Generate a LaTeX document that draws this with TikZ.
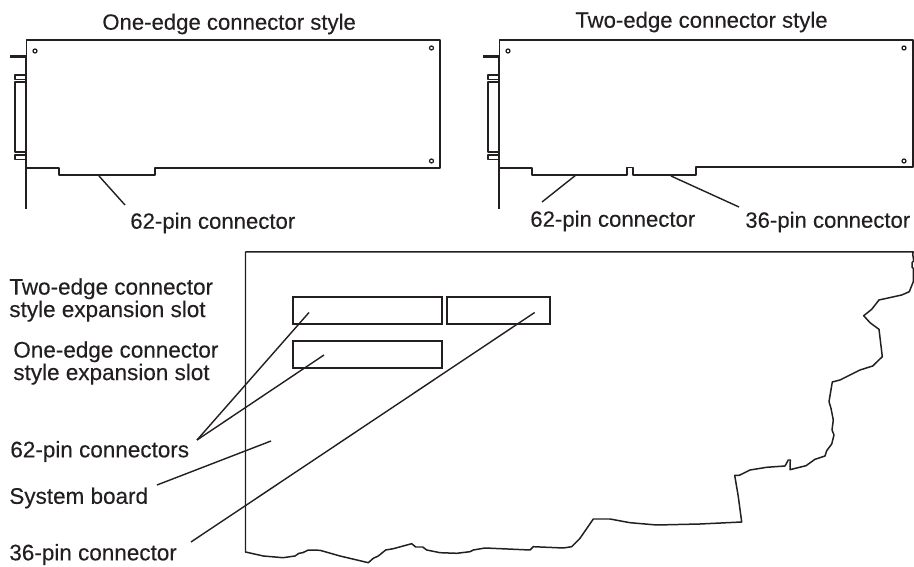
\documentclass[tikz,border=0pt]{standalone}
\usepackage{fontspec}
\newfontfamily\labelfont[FakeBold=0.25]{Liberation Sans}
\definecolor{inkline}{HTML}{231F20}
\tikzset{
  cardline/.style={inkline, line width=1.1pt, line join=round},
  boardline/.style={inkline, line width=0.85pt, line join=round},
  plugline/.style={inkline, line width=0.9pt, line join=round},
  bracketline/.style={inkline, line width=1.6pt},
  leaderline/.style={inkline, line width=0.8pt},
  slotbox/.style={draw=inkline, line width=1.1pt, rectangle, inner sep=0pt, outer sep=0pt, anchor=north west},
  labeltext/.style={inkline, inner sep=0pt, align=left, anchor=west, font=\labelfont\fontsize{12.8}{12.8}\selectfont},
  cardtext/.style={labeltext, font=\labelfont\fontsize{12.6}{12.6}\selectfont},
  holedot/.style={inkline, line width=0.7pt}
}
\begin{document}
\begin{tikzpicture}[x=0.02cm, y=-0.02cm]
    \useasboundingbox (0,0) rectangle (914,567);

    % one-edge card
    \draw[cardline] (26.5,168) -- (26.5,40) -- (440,40) -- (440,168) -- (155,168) -- (155,175) -- (59,175) -- (59,168) -- cycle;
    \draw[bracketline] (26,56.5) -- (26,209);
    \draw[bracketline] (10,56.5) -- (26,56.5);
    \draw[plugline] (25,75) -- (15,75) -- (15,79.5) -- (25,79.5);
    \draw[plugline] (25,82) -- (15,82) -- (15,152) -- (25,152);
    \draw[plugline] (25,155) -- (15,155) -- (15,159.5) -- (25,159.5);
    \draw[holedot] (35,51) circle (2);
    \draw[holedot] (431.5,48) circle (2);
    \draw[holedot] (431.5,161) circle (2);

    % two-edge card
    \draw[cardline] (499.5,168) -- (499.5,40) -- (913,40) -- (913,167) -- (696,167) -- (696,175) -- (633,175) -- (633,167.5) -- (627,167.5) -- (627,175) -- (532,175) -- (532,168) -- cycle;
    \draw[bracketline] (499,56.5) -- (499,209);
    \draw[bracketline] (483,56.5) -- (499,56.5);
    \draw[plugline] (498,75) -- (488,75) -- (488,79.5) -- (498,79.5);
    \draw[plugline] (498,82) -- (488,82) -- (488,152) -- (498,152);
    \draw[plugline] (498,155) -- (488,155) -- (488,159.5) -- (498,159.5);
    \draw[holedot] (508,51) circle (2);
    \draw[holedot] (904,48) circle (2);
    \draw[holedot] (904,161) circle (2);

    % system board
    \draw[boardline] (245.5,552) -- (245.5,252) -- (913.3,252) -- (912.7,254) -- (913.7,260.7) -- (912,262.7) -- (912,267.3) -- (913.3,268.3) -- (913.3,281.7) -- (909.3,291.7) -- (901.7,295) -- (879,300) -- (871.7,309.3) -- (863.7,315.7) -- (870,322.7) -- (879,329.3) -- (882.3,356.7) -- (872.7,366) -- (860,370) -- (840,380) -- (832.3,382) -- (829,401.7) -- (831,408.3) -- (833.3,420) -- (832,430) -- (834,435) -- (831.7,444) -- (826.7,450.7) -- (825,456) -- (815,459.3) -- (806,465.7) -- (790,469.7) -- (790.3,460) -- (788.3,460) -- (785,466) -- (766.7,467.3) -- (750,470) -- (739.3,475.3) -- (734.7,475.3) -- (738.3,496.7) -- (741.7,522) -- (700,524) -- (656.7,525) -- (630,522.7) -- (610,519) -- (593.3,519) -- (580,538.3) -- (571.7,546.7) -- (563.3,548) -- (533.3,546.7) -- (530,550) -- (485,548) -- (473.3,550) -- (470,551.7) -- (456.7,553.3) -- (440,552.7) -- (426.7,550) -- (422.7,547) -- (415.7,547) -- (411.7,543.7) -- (393.3,548.7) -- (385.7,550) -- (378.3,556) -- (373.3,558.3) -- (368.3,562.7) -- (340,556) -- (320,550.3) -- (308.3,550) -- (302.7,552.7) -- (299,553.3) -- (295,556) -- (283,557.7) -- (263.3,556) -- cycle;

    % slots
    \node[slotbox, minimum width=2.99cm, minimum height=0.546cm] (slotlongA) at (292.7,297) {};
    \node[slotbox, minimum width=2.05cm, minimum height=0.546cm] (slotshort) at (447.3,297) {};
    \node[slotbox, minimum width=2.99cm, minimum height=0.546cm] (slotlongB) at (292.7,341) {};

    % labels
    \node[cardtext] (titleone) at (102,24) {One-edge connector style};
    \node[cardtext] (titletwo) at (575,22) {Two-edge connector style};
    \node[cardtext] (oneconn) at (130,223) {62-pin connector};
    \node[cardtext] (twoconnA) at (530,221) {62-pin connector};
    \node[cardtext] (twoconnB) at (745,222) {36-pin connector};
    \node[labeltext] (twoslot) at (9,300) {Two-edge connector\\style expansion slot};
    \node[labeltext] (oneslot) at (13,363) {One-edge connector\\style expansion slot};
    \node[labeltext] (pinssixtytwo) at (10,451.5) {62-pin connectors};
    \node[labeltext] (sysboard) at (9,498) {System board};
    \node[labeltext] (pinsthirtysix) at (9,554.5) {36-pin connector};

    % leader ends
    \coordinate (onefinger) at (99,176);
    \coordinate (onetail) at (125,205);
    \coordinate (twofingerA) at (576,175);
    \coordinate (twotailA) at (542,202);
    \coordinate (twofingerB) at (671,176);
    \coordinate (twotailB) at (739,207);
    \coordinate (apex) at (197,440);
    \coordinate (slotpointA) at (309,312.5);
    \coordinate (slotpointB) at (324,355);
    \coordinate (slotpointC) at (534.7,312.5);
    \coordinate (boardpoint) at (271,441);
    \coordinate (boardtail) at (157,485);
    \coordinate (shorttail) at (191,542);

    % leaders
    \draw[leaderline] (onefinger) -- (onetail);
    \draw[leaderline] (twofingerA) -- (twotailA);
    \draw[leaderline] (twofingerB) -- (twotailB);
    \draw[leaderline] (apex) -- (slotpointA);
    \draw[leaderline] (apex) -- (slotpointB);
    \draw[leaderline] (boardtail) -- (boardpoint);
    \draw[leaderline] (shorttail) -- (slotpointC);
\end{tikzpicture}
\end{document}
